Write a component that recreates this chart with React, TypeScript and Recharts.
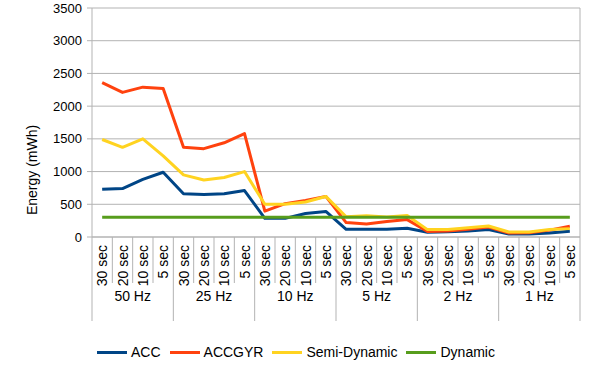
import React from "react";
import { LineChart, Line, XAxis, YAxis, CartesianGrid } from "recharts";

const groups = ["50 Hz", "25 Hz", "10 Hz", "5 Hz", "2 Hz", "1 Hz"];
const intervals = ["30 sec", "20 sec", "10 sec", "5 sec"];
const yTicks = [0, 500, 1000, 1500, 2000, 2500, 3000, 3500];

const accValues = [730, 740, 880, 990, 660, 650, 660, 710, 285, 285, 360, 390, 118, 118, 118, 133, 72, 82, 92, 113, 45, 45, 62, 87];
const accGyrValues = [2360, 2210, 2290, 2270, 1370, 1350, 1440, 1580, 395, 510, 560, 620, 220, 200, 236, 266, 85, 90, 120, 153, 62, 65, 105, 165];
const semiDynamicValues = [1490, 1370, 1500, 1240, 950, 870, 910, 1000, 500, 500, 535, 620, 310, 325, 305, 330, 113, 113, 143, 169, 77, 77, 113, 128];
const dynamicValues = [300, 300, 300, 300, 300, 300, 300, 300, 300, 300, 300, 300, 300, 300, 300, 300, 300, 300, 300, 300, 300, 300, 300, 300];

const series = [
  { key: "acc", name: "ACC", color: "#004586", values: accValues },
  { key: "accgyr", name: "ACCGYR", color: "#ff420e", values: accGyrValues },
  { key: "semi", name: "Semi-Dynamic", color: "#ffd320", values: semiDynamicValues },
  { key: "dyn", name: "Dynamic", color: "#579d1c", values: dynamicValues },
];

const data: any[] = [];
groups.forEach((g, gi) => {
  intervals.forEach((s, si) => {
    const i = gi * 4 + si;
    const row: any = { id: `${g}|${s}`, sec: s, group: g };
    series.forEach((se) => {
      row[se.key] = se.values[i];
    });
    data.push(row);
  });
});

const W = 592;
const H = 370;
const MARGIN = { top: 8, right: 12, left: 0, bottom: 43 };
const Y_AXIS_W = 92;
const X_AXIS_H = 90;
const PLOT_W = W - MARGIN.left - MARGIN.right - Y_AXIS_W;
const HALF = PLOT_W / data.length / 2;
const AXIS_Y = H - MARGIN.bottom - X_AXIS_H;
const FONT = "'Liberation Sans', Arial, sans-serif";
const GRID = "#b3b3b3";

const XTick = (props: any) => {
  const { x, payload } = props;
  const i = payload.index;
  const row = data[i];
  const n = data.length;
  return (
    <g>
      <line
        x1={x - HALF}
        x2={x - HALF}
        y1={AXIS_Y}
        y2={AXIS_Y + (i % 4 === 0 ? 84 : 46)}
        stroke={GRID}
        strokeWidth={1}
      />
      {i === n - 1 && (
        <line x1={x + HALF} x2={x + HALF} y1={AXIS_Y} y2={AXIS_Y + 84} stroke={GRID} strokeWidth={1} />
      )}
      <text
        transform={`translate(${x + 5},${AXIS_Y + 8}) rotate(-90)`}
        textAnchor="end"
        fontSize={14}
        fontFamily={FONT}
        fill="#000"
      >
        {row.sec}
      </text>
      {i % 4 === 1 && (
        <text x={x + HALF} y={AXIS_Y + 64} textAnchor="middle" fontSize={14} fontFamily={FONT} fill="#000">
          {row.group}
        </text>
      )}
    </g>
  );
};

const YTitle = () => (
  <text
    transform={`translate(37,170) rotate(-90)`}
    textAnchor="middle"
    fontSize={14}
    fontFamily={FONT}
    fill="#000"
  >
    Energy (mWh)
  </text>
);

const LegendBox = () => (
  <div
    style={{
      position: "absolute",
      left: 97,
      top: H - MARGIN.bottom,
      height: MARGIN.bottom,
      display: "flex",
      alignItems: "center",
      paddingTop: 7,
      boxSizing: "border-box",
      fontFamily: FONT,
      fontSize: 14,
      color: "#000",
      whiteSpace: "nowrap",
    }}
  >
    {series.map((s) => (
      <div key={s.key} style={{ display: "flex", alignItems: "center", marginRight: 9 }}>
        <div style={{ width: 30, height: 3, background: s.color, marginRight: 4 }} />
        <span>{s.name}</span>
      </div>
    ))}
  </div>
);

export default function App() {
  return (
    <div style={{ position: "absolute", left: 0, top: 0, width: W, height: H, background: "#fff" }}>
      <LineChart width={W} height={H} data={data} margin={MARGIN}>
        <CartesianGrid
          stroke={GRID}
          vertical={true}
          verticalCoordinatesGenerator={({ offset }: any) => [offset.left + offset.width]}
        />
        <XAxis
          dataKey="id"
          type="category"
          interval={0}
          height={X_AXIS_H}
          padding={{ left: HALF, right: HALF }}
          axisLine={{ stroke: GRID }}
          tickLine={false}
          tick={<XTick />}
        />
        <YAxis
          width={Y_AXIS_W}
          domain={[0, 3500]}
          ticks={yTicks}
          interval={0}
          tickSize={5}
          tickMargin={5}
          axisLine={{ stroke: GRID }}
          tickLine={{ stroke: GRID }}
          tick={{ fontSize: 13, fontFamily: FONT, fill: "#000" }}
          label={{ content: <YTitle /> }}
        />
        {series.map((s) => (
          <Line
            key={s.key}
            dataKey={s.key}
            name={s.name}
            stroke={s.color}
            strokeWidth={3}
            dot={false}
            activeDot={false}
            type="linear"
            strokeLinejoin="round"
            isAnimationActive={false}
          />
        ))}
      </LineChart>
      <LegendBox />
    </div>
  );
}
